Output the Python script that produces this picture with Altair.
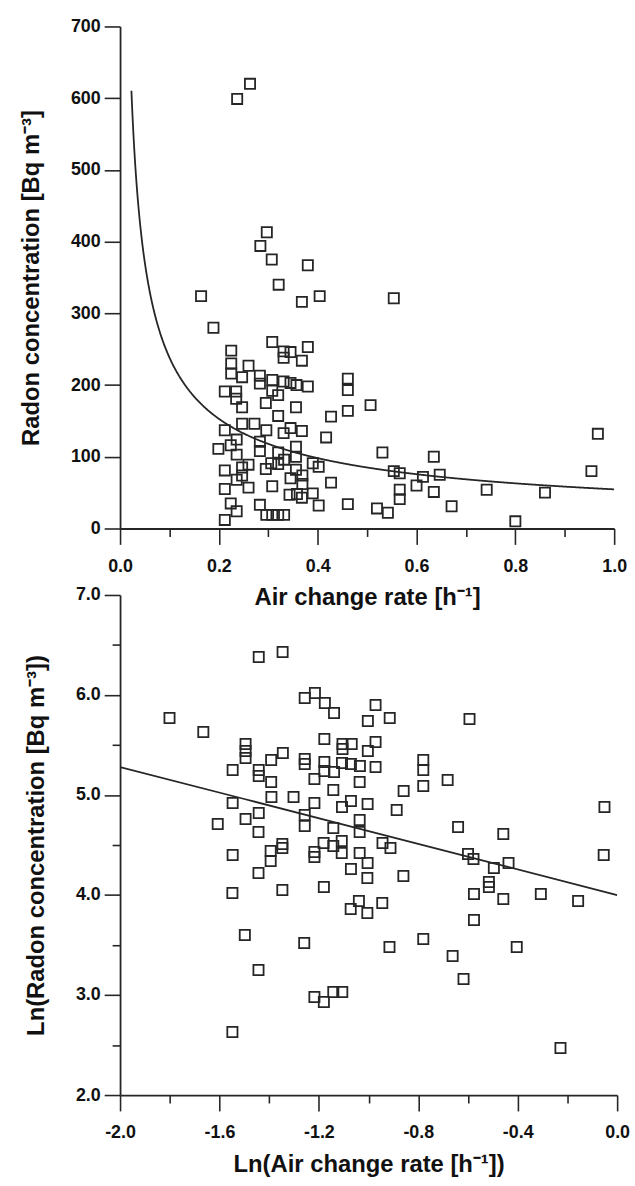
import altair as alt
import pandas as pd

# ---------------- data ----------------
# Top panel: air change rate [h^-1] vs radon concentration [Bq m^-3]
top_x = [0.263, 0.237, 0.297, 0.284, 0.307, 0.380, 0.321, 0.404, 0.368, 0.164, 0.189, 0.225, 0.308, 0.331, 0.345, 0.331, 0.380, 0.368,
         0.554, 0.461, 0.461, 0.461, 0.507, 0.427, 0.531, 0.635, 0.554, 0.566, 0.613, 0.647, 0.600, 0.566, 0.566, 0.635, 0.742, 0.860,
         0.967, 0.954, 0.427, 0.461, 0.520, 0.542, 0.671, 0.800,
         0.225, 0.225, 0.260, 0.247, 0.283, 0.283, 0.308, 0.331, 0.345, 0.357, 0.380, 0.212, 0.235, 0.235, 0.247, 0.308, 0.320, 0.295,
         0.356, 0.320,
         0.212, 0.247, 0.272, 0.296, 0.331, 0.345, 0.368, 0.417,
         0.236, 0.224, 0.199, 0.283, 0.283, 0.236, 0.320, 0.356, 0.356, 0.332, 0.320, 0.306, 0.295, 0.390, 0.402, 0.260, 0.247, 0.247,
         0.212, 0.356, 0.345, 0.369, 0.369, 0.236, 0.260, 0.308, 0.212, 0.343, 0.358, 0.368, 0.390, 0.224, 0.236, 0.283, 0.402, 0.212,
         0.296, 0.308, 0.320, 0.332]
top_y = [620, 599, 413, 394, 375, 367, 340, 324, 316, 324, 280, 248, 260, 247, 246, 238, 253, 234,
         321, 209, 193, 164, 172, 156, 106, 100, 80, 77, 72, 75, 60, 54, 41, 51, 54, 50,
         132, 80, 64, 34, 28, 22, 31, 10,
         230, 216, 227, 211, 213, 202, 207, 205, 203, 200, 198, 191, 191, 181, 169, 192, 186, 175,
         169, 157,
         137, 146, 146, 137, 133, 140, 136, 127,
         124, 116, 111, 121, 108, 103, 106, 114, 100, 96, 90, 91, 83, 91, 86, 89, 85, 74,
         81, 82, 70, 74, 62, 68, 57, 59, 55, 47, 48, 43, 49, 35, 24, 33, 32, 12,
         19, 19, 19, 19]

# Bottom panel: Ln(air change rate) vs Ln(radon concentration)
bot_x = [-1.442, -1.346, -1.257, -1.216, -1.176, -1.139, -1.801, -1.665, -1.495, -1.495, -1.495, -1.345, -1.392, -1.547,
         -1.442, -1.442, -1.392, -1.178, -1.105, -1.105, -1.068, -1.257, -1.257, -1.178, -1.178, -1.139, -1.071, -1.107,
         -1.035, -0.972, -1.218, -1.036, -1.142, -1.391, -1.302, -1.547, -1.218, -1.107, -1.071, -1.004, -0.887, -1.442,
         -1.495, -1.607, -1.257, -1.257, -1.142, -1.036, -1.036, -0.640, -0.972, -1.003, -0.915, -0.594, -0.972, -1.003,
         -0.780, -0.780, -0.780, -0.682, -0.859, -0.051, -0.054, -1.443, -0.458, -1.547, -1.347, -1.347, -1.394, -1.394,
         -1.443, -1.218, -1.218, -1.181, -1.142, -1.108, -1.108, -0.944, -0.912, -1.036, -1.004, -1.071, -0.600, -0.578,
         -0.860, -1.005, -1.347, -1.180, -1.548, -1.039, -1.072, -1.005, -0.945, -0.496, -0.437, -0.516, -0.516, -0.576,
         -0.458, -0.307, -0.157, -0.576, -1.498, -1.259, -0.916, -0.780, -0.404, -0.662, -0.618, -1.443, -1.218, -1.180,
         -1.142, -1.106, -1.548, -0.228]
bot_y = [6.38, 6.43, 5.97, 6.02, 5.92, 5.82, 5.77, 5.63, 5.51, 5.44, 5.37, 5.42, 5.35, 5.25,
         5.25, 5.19, 5.13, 5.56, 5.51, 5.46, 5.51, 5.36, 5.31, 5.33, 5.24, 5.23, 5.31, 5.32,
         5.29, 5.28, 5.16, 5.13, 5.05, 4.98, 4.98, 4.92, 4.92, 4.88, 4.94, 4.91, 4.85, 4.82,
         4.76, 4.71, 4.80, 4.69, 4.67, 4.75, 4.63, 4.68, 5.90, 5.74, 5.77, 5.76, 5.53, 5.44,
         5.35, 5.25, 5.09, 5.15, 5.04, 4.88, 4.40, 4.63, 4.61, 4.40, 4.51, 4.47, 4.44, 4.34,
         4.22, 4.43, 4.38, 4.52, 4.49, 4.54, 4.42, 4.52, 4.47, 4.42, 4.32, 4.26, 4.41, 4.36,
         4.19, 4.17, 4.05, 4.08, 4.02, 3.94, 3.86, 3.82, 3.92, 4.27, 4.32, 4.13, 4.08, 4.01,
         3.96, 4.01, 3.94, 3.75, 3.60, 3.52, 3.48, 3.56, 3.48, 3.39, 3.16, 3.25, 2.98, 2.93,
         3.03, 3.03, 2.63, 2.47]

# Fitted regression: ln(C) = FIT_A + FIT_B * ln(ACH)
FIT_A = 4.00
FIT_B = -0.64
CURVE_X_START = 0.023

# Axis tick values and labels
top_x_ticks = [0.0, 0.1, 0.2, 0.3, 0.4, 0.5, 0.6, 0.7, 0.8, 0.9, 1.0]
top_y_ticks = [0, 50, 100, 150, 200, 250, 300, 350, 400, 450, 500, 550, 600, 650, 700]
bot_x_ticks = [-2.0, -1.8, -1.6, -1.4, -1.2, -1.0, -0.8, -0.6, -0.4, -0.2, 0.0]
bot_y_ticks = [2.0, 2.5, 3.0, 3.5, 4.0, 4.5, 5.0, 5.5, 6.0, 6.5, 7.0]

# ---------------- styling ----------------
FONT = "Liberation Sans"
INK = "#262626"
LABEL_FS = 18
TITLE_FS = 24
MAJOR = 16
MINOR = 8


def make_axis(values, major_test, label_expr, title, orient, title_pad, label_pad):
    return alt.Axis(
        values=values,
        orient=orient,
        title=title,
        labelExpr=label_expr,
        tickSize={"condition": {"test": major_test, "value": MAJOR}, "value": MINOR},
        tickWidth=1.6,
        tickColor=INK,
        domainColor=INK,
        domainWidth=1.8,
        grid=False,
        labelFont=FONT,
        labelFontSize=LABEL_FS,
        labelFontWeight="bold",
        labelColor="#111111",
        labelPadding=label_pad,
        titleFont=FONT,
        titleFontSize=TITLE_FS,
        titleFontWeight="bold",
        titleColor="#111111",
        titlePadding=title_pad,
        labelOverlap=False,
        labelFlush=False,
    )


top_x_major = "abs(datum.value*5 - round(datum.value*5)) < 0.001"
top_y_major = "datum.value % 100 === 0"
bot_x_major = "abs(datum.value/0.4 - round(datum.value/0.4)) < 0.001"
bot_y_major = "abs(datum.value - round(datum.value)) < 0.001"

fmt1 = "replace(format(datum.value, '.1f'), '\u2212', '-')"

top_x_axis = make_axis(top_x_ticks, top_x_major, f"{top_x_major} ? {fmt1} : ''",
                       "Air change rate [h\u207b\u00b9]", "bottom", 11, 13)
top_y_axis = make_axis(top_y_ticks, top_y_major, f"{top_y_major} ? format(datum.value, 'd') : ''",
                       "Radon concentration [Bq m\u207b\u00b3]", "left", 27, 4)
bot_x_axis = make_axis(bot_x_ticks, bot_x_major, f"{bot_x_major} ? {fmt1} : ''",
                       "Ln(Air change rate [h\u207b\u00b9])", "bottom", 11, 13)
bot_y_axis = make_axis(bot_y_ticks, bot_y_major, f"{bot_y_major} ? {fmt1} : ''",
                       "Ln(Radon concentration [Bq m\u207b\u00b3])", "left", 27, 4)

W = 498
H_TOP = 506
H_BOT = 504

top_xs = alt.Scale(domain=[0, 1], nice=False, zero=False)
top_ys = alt.Scale(domain=[0, 700], nice=False, zero=False)
bot_xs = alt.Scale(domain=[-2, 0], nice=False, zero=False)
bot_ys = alt.Scale(domain=[2, 7], nice=False, zero=False)

top_df = pd.DataFrame({"x": top_x, "y": top_y})
bot_df = pd.DataFrame({"x": bot_x, "y": bot_y})

top_pts = alt.Chart(top_df).mark_point(
    shape="square", filled=False, size=105, strokeWidth=1.8, color=INK, opacity=1
).encode(
    x=alt.X("x:Q", scale=top_xs, axis=top_x_axis),
    y=alt.Y("y:Q", scale=top_ys, axis=top_y_axis),
)

top_curve = alt.Chart(alt.sequence(start=CURVE_X_START, stop=1.0005, step=0.001, as_="x")).transform_calculate(
    y=f"exp({FIT_A} + ({FIT_B}) * log(datum.x))"
).mark_line(color=INK, strokeWidth=1.8, clip=True).encode(
    x=alt.X("x:Q", scale=top_xs),
    y=alt.Y("y:Q", scale=top_ys),
)

top = alt.layer(top_curve, top_pts).properties(width=W, height=H_TOP)

bot_pts = alt.Chart(bot_df).mark_point(
    shape="square", filled=False, size=105, strokeWidth=1.8, color=INK, opacity=1
).encode(
    x=alt.X("x:Q", scale=bot_xs, axis=bot_x_axis),
    y=alt.Y("y:Q", scale=bot_ys, axis=bot_y_axis),
)

bot_line = alt.Chart(alt.sequence(start=-2.0, stop=0.01, step=0.5, as_="x")).transform_calculate(
    y=f"{FIT_A} + ({FIT_B}) * datum.x"
).mark_line(color=INK, strokeWidth=1.8, clip=True).encode(
    x=alt.X("x:Q", scale=bot_xs),
    y=alt.Y("y:Q", scale=bot_ys),
)

bottom = alt.layer(bot_line, bot_pts).properties(width=W + 3, height=H_BOT)

chart = alt.vconcat(top, bottom, spacing=67, bounds="flush").properties(
    padding={"left": 19, "top": 13, "right": 5, "bottom": 5},
    background="white",
).configure_view(stroke=None)

chart.save("out.html", embed_options={"renderer": "svg", "actions": False})
